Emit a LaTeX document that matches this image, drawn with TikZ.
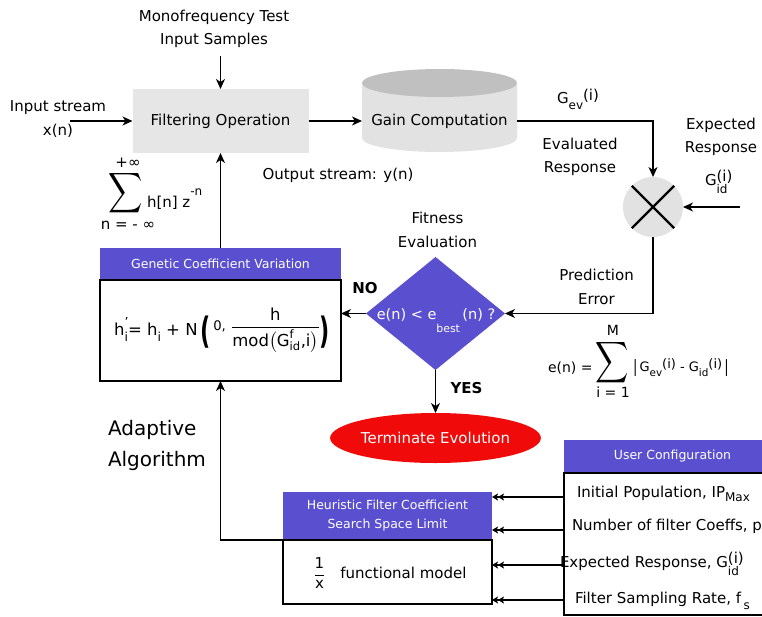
\documentclass[tikz,border=0pt]{standalone}
\usepackage{amsmath}
\usepackage{graphicx}
\usepackage{fontspec}
\setmainfont{DejaVu Sans}
\usetikzlibrary{arrows.meta,shapes.geometric}
\definecolor{hdr}{HTML}{5A4FCF}
\definecolor{filtgray}{HTML}{E6E6E6}
\definecolor{cylbody}{HTML}{E2E2E2}
\definecolor{cyltop}{HTML}{C0C0C0}
\definecolor{termred}{HTML}{F00A0A}
\newcommand\seqsub[3]{#1\raisebox{-0.45em}{\scalebox{0.8}{#2}}\raisebox{0.2em}{#3}}
\newcommand\stksub[3]{#1\rlap{\raisebox{-0.55em}{\scalebox{0.8}{#2}}}\raisebox{0.25em}{#3}}
\newcommand\fsz[2]{\fontsize{#1}{#2}\selectfont}
\newcommand\bigpar[1]{\raisebox{-8pt}{\scalebox{1.35}[2.2]{\textbf{#1}}}}
\tikzset{
  every node/.style={inner sep=0pt, outer sep=0pt},
  txt/.style={font=\fsz{15}{23.5}, align=center},
  plain/.style={font=\fsz{15}{18}},
  arr/.style={line width=1.3pt, -{Stealth[length=10pt,width=9pt,inset=3pt]}},
  darr/.style={line width=1.3pt, -{Stealth[length=6pt,width=7pt,inset=1.5pt] Stealth[length=6pt,width=7pt,inset=1.5pt]}},
  hdrbox/.style={fill=hdr, text=white, font=\fsz{12.5}{19}, align=center},
  bodybox/.style={draw, line width=1.5pt, fill=white},
}
\begin{document}
\begin{tikzpicture}[x=1pt,y=-1pt]
\useasboundingbox (0,0) rectangle (762,616);
\clip (0,0) rectangle (762,616);

% top: filtering
\node[txt] (mono) at (214,29) {Monofrequency Test\\Input Samples};
\node[txt, fill=filtgray, minimum width=176pt, minimum height=64pt] (filt) at (220.5,121) {Filtering Operation};
\coordinate (monoend) at (220.5,56);
\draw[arr] (monoend) -- (filt.north);
\node[txt] (instr) at (58,119) {Input stream\\x(n)};
\coordinate (xin) at (70,121);
\draw[arr] (xin) -- (filt.west);

% gain computation cylinder
\fill[cylbody] (362,83) -- (362,138) arc[start angle=180,end angle=0,x radius=77.5,y radius=14] -- (517,83) -- cycle;
\fill[cyltop] (439.5,83) ellipse[x radius=77.5,y radius=14];
\node[txt, minimum width=155pt, minimum height=30pt] (gain) at (439.5,121) {Gain Computation};
\draw[arr] (filt.east) -- (gain.west);
\node[txt] (outlbl) at (338,175) {Output stream: y(n)};

% labels near multiplier
\node[plain, anchor=base west] (gev) at (557,103) {\seqsub{G}{ev}{(i)}};
\node[txt] (evalr) at (580,157) {Evaluated\\Response};
\node[txt] (expr) at (721,137) {Expected\\Response};
\node[plain, anchor=base west] (gid) at (705,185) {\stksub{G}{id}{(i)}};

% multiplier
\node[circle, fill=cylbody, minimum size=60pt] (mult) at (653,207) {};
\draw[line width=2.2pt] (mult.north west) -- (mult.south east) (mult.north east) -- (mult.south west);
\draw[arr] (gain.east) -| (mult.north);
\coordinate (expin) at (740,207);
\draw[arr] (expin) -- (mult.east);

% fitness diamond
\node[diamond, fill=hdr, minimum width=139pt, minimum height=113pt] (dia) at (435.5,313.5) {};
\node[font=\fsz{14.5}{17}, text=white, anchor=base] (diat) at (436,319) {e(n) < e\raisebox{-0.95em}{\scalebox{0.75}{best}}\,(n) ?};
\node[txt] (fit) at (437.5,230) {Fitness\\Evaluation};
\draw[arr] (mult.south) |- (dia.east);
\node[txt] (pred) at (596.5,287) {Prediction\\Error};

% genetic coefficient variation
\node[hdrbox, minimum width=241pt, minimum height=32pt] (gh) at (220.5,264) {Genetic Coefficient Variation};
\node[bodybox, minimum width=241pt, minimum height=101pt] (gb) at (220.5,330.5) {};
\node[font=\fsz{16.5}{19}, anchor=base] (gform) at (222,335) {h\rlap{\raisebox{0.5em}{\scalebox{0.75}{'}}}\raisebox{-0.4em}{\scalebox{0.75}{i}}= h\raisebox{-0.4em}{\scalebox{0.75}{i}} + N\,\bigpar{(}\,\raisebox{5pt}{\scalebox{0.8}{0,}}\ \raisebox{3pt}{$\dfrac{\text{h}}{\text{mod}\bigl(\text{G}^{\text{f}}_{\text{id}}\text{,i}\bigr)}$}\bigpar{)}};
\draw[arr] (gh.north) -- (filt.south);
\node[font=\bfseries\fsz{15}{18}] (no) at (365,288) {NO};
\draw[arr] (dia.west) -- (dia.west -| gb.east);

% transfer function sum
\node[plain] (lsig) at (126,193) {\scalebox{1.65}[1.95]{$\displaystyle\sum$}};
\node[plain] (lsup) at (128,163) {+∞};
\node[plain] (llow) at (128,225) {n = - ∞};
\node[plain, anchor=base west] (lh) at (147,207) {h[n] z\raisebox{0.8em}{\scalebox{0.8}{-n}}};

% terminate
\node[ellipse, txt, fill=termred, text=white, minimum width=184pt, minimum height=50pt] (term) at (435.5,438) {Terminate Evolution};
\draw[arr] (dia.south) -- (term.north);
\node[font=\bfseries\fsz{15}{18}] (yes) at (466.5,388) {YES};

% error formula
\node[font=\fsz{14}{17}, anchor=base west] (en) at (548,372) {e(n) =};
\node[font=\fsz{14}{17}] (rsig) at (612,363) {\scalebox{1.6}[2.0]{$\displaystyle\sum$}};
\node[font=\fsz{14}{17}] (rM) at (613,330) {M};
\node[font=\fsz{14}{17}] (ri) at (613,392) {i = 1};
\node[font=\fsz{13}{16}, anchor=base west] (rabs) at (633,371) {\raisebox{-1pt}{\scalebox{1}[1.3]{|}}\,\seqsub{G}{ev}{(i)} - \seqsub{G}{id}{(i)}\,\raisebox{-1pt}{\scalebox{1}[1.3]{|}}};

% adaptive algorithm
\node[font=\fsz{20}{24}, anchor=base west] (ad1) at (108,435) {Adaptive};
\node[font=\fsz{20}{24}, anchor=base west] (ad2) at (108,466) {Algorithm};

% heuristic
\node[hdrbox, minimum width=209pt, minimum height=48pt] (hh) at (387.5,516) {Heuristic Filter Coefficient\\Search Space Limit};
\node[bodybox, minimum width=209pt, minimum height=64pt] (hb) at (387.5,572) {};
\node[plain] (hf) at (390,573) {$\dfrac{\text{1}}{\text{x}}$\quad functional model};
\draw[arr] (hb.north west) -| (gb.south);

% user configuration
\node[hdrbox, minimum width=217pt, minimum height=33pt] (uh) at (672.5,456.5) {User Configuration};
\node[bodybox, minimum width=217pt, minimum height=142pt] (ub) at (672.5,544) {};
\node[plain, anchor=base west] (r1) at (577,497) {Initial Population, IP\raisebox{-0.3em}{\scalebox{0.8}{Max}}};
\node[plain, anchor=base west] (r2) at (572,530) {Number of filter Coeffs, p};
\node[plain, anchor=base west] (r3) at (560,567) {Expected Response, \stksub{G}{id}{(i)}};
\node[plain, anchor=base west] (r4) at (575,603) {Filter Sampling Rate, f\,\raisebox{-0.45em}{\scalebox{0.8}{s}}};
\coordinate (a1) at (564,497);
\coordinate (a2) at (564,530);
\coordinate (a3) at (564,565);
\coordinate (a4) at (564,600);
\draw[darr] (a1) -- (a1 -| hh.east);
\draw[darr] (a2) -- (a2 -| hh.east);
\draw[darr] (a3) -- (a3 -| hb.east);
\draw[darr] (a4) -- (a4 -| hb.east);
\end{tikzpicture}
\end{document}
